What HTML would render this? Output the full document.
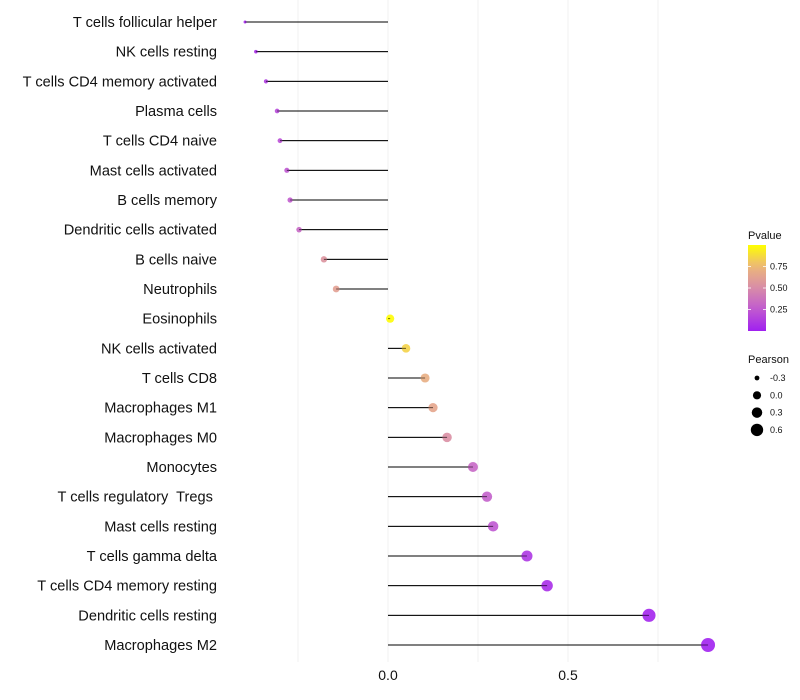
<!DOCTYPE html>
<html><head><meta charset="utf-8"><style>
body{margin:0;background:#fff;}
svg{display:block;font-family:"Liberation Sans",sans-serif;}
text{white-space:pre;}
</style></head><body>
<svg id="chart" width="800" height="700"></svg>
<script>
const categories=["T cells follicular helper","NK cells resting","T cells CD4 memory activated","Plasma cells","T cells CD4 naive","Mast cells activated","B cells memory","Dendritic cells activated","B cells naive","Neutrophils","Eosinophils","NK cells activated","T cells CD8","Macrophages M1","Macrophages M0","Monocytes","T cells regulatory  Tregs ","Mast cells resting","T cells gamma delta","T cells CD4 memory resting","Dendritic cells resting","Macrophages M2"];
const pearson=[-0.397,-0.367,-0.339,-0.308,-0.300,-0.281,-0.272,-0.247,-0.178,-0.144,0.006,0.05,0.103,0.125,0.164,0.236,0.275,0.292,0.386,0.442,0.725,0.889];
const pvalues=[0.03,0.06,0.12,0.18,0.2,0.24,0.26,0.32,0.55,0.62,0.99,0.85,0.7,0.65,0.52,0.32,0.28,0.24,0.1,0.06,0.02,0.01];
const xTicks=[0,0.5];
const xGrid=[-0.25,0,0.25,0.5,0.75];
const pLegendTicks=[0.25,0.5,0.75];
const sizeLegend=[-0.3,0,0.3,0.6];

const NS="http://www.w3.org/2000/svg";
const svg=document.getElementById('chart');
function mk(t,a,p){const e=document.createElementNS(NS,t);for(const k in a)e.setAttribute(k,a[k]);(p||svg).appendChild(e);return e;}
const xs=v=>388+v*360;
const ys=i=>22+i*(623/21);
const rs=v=>Math.sqrt(Math.max(0.5,16.7+36.2*v));
const stops=[[0,[160,32,240]],[0.25,[192,90,208]],[0.5,[216,140,168]],[0.75,[236,182,122]],[1,[255,255,0]]];
function col(p){for(let i=1;i<stops.length;i++){if(p<=stops[i][0]){const[a,c1]=stops[i-1],[b,c2]=stops[i];const t=(p-a)/(b-a);return 'rgb('+c1.map((c,j)=>Math.round(c+(c2[j]-c)*t)).join(',')+')';}}return 'rgb(255,255,0)';}

xGrid.forEach(v=>{const g=mk('line',{x1:xs(v),x2:xs(v),y1:0,y2:662,stroke:'#f2f2f2','stroke-width':1});

});
xTicks.forEach(v=>{const t=mk('text',{x:xs(v),y:680,'text-anchor':'middle','font-size':14,fill:'#111'});t.textContent=v.toFixed(1);

});

categories.forEach((c,i)=>{
 const y=ys(i);
 const lb=mk('text',{x:217,y:y+5,'text-anchor':'end','font-size':14.6,fill:'#111'});lb.textContent=c;
 
 
 const l=mk('line',{x1:xs(0),x2:xs(pearson[i]),y1:y,y2:y,stroke:'#000','stroke-width':1});
 
 
 const d=mk('circle',{cx:xs(pearson[i]),cy:y,r:rs(pearson[i]),fill:col(pvalues[i]),'fill-opacity':0.9});
 
 
 const l2=mk('line',{x1:xs(0),x2:xs(pearson[i]),y1:y,y2:y,stroke:'#000','stroke-width':0.8,'stroke-opacity':0.6});
 
 
});

// Pvalue legend
const defs=mk('defs',{});
const lg=mk('linearGradient',{id:'pg',x1:0,y1:1,x2:0,y2:0},defs);
for(let k=0;k<=10;k++){mk('stop',{offset:k/10,'stop-color':col(k/10)},lg);}
const pt=mk('text',{x:748,y:239,'font-size':11,fill:'#111'});pt.textContent='Pvalue';


const bar=mk('rect',{x:748,y:245,width:18,height:86,fill:'url(#pg)'});


pLegendTicks.forEach(v=>{const y=331-v*86;
 mk('line',{x1:748,x2:751,y1:y,y2:y,stroke:'#fff','stroke-width':0.8});
 mk('line',{x1:763,x2:766,y1:y,y2:y,stroke:'#fff','stroke-width':0.8});
 const t=mk('text',{x:770,y:y+3,'font-size':9,fill:'#111'});t.textContent=v.toFixed(2);
 
 });
const st=mk('text',{x:748,y:363,'font-size':11,fill:'#111'});st.textContent='Pearson';


sizeLegend.forEach((v,k)=>{const y=378+k*17.3;
 const c=mk('circle',{cx:757,cy:y,r:rs(v),fill:'#000'});
 
 
 const t=mk('text',{x:770,y:y+3,'font-size':9,fill:'#111'});t.textContent=v.toFixed(1);
 
 });
</script>
</body></html>
